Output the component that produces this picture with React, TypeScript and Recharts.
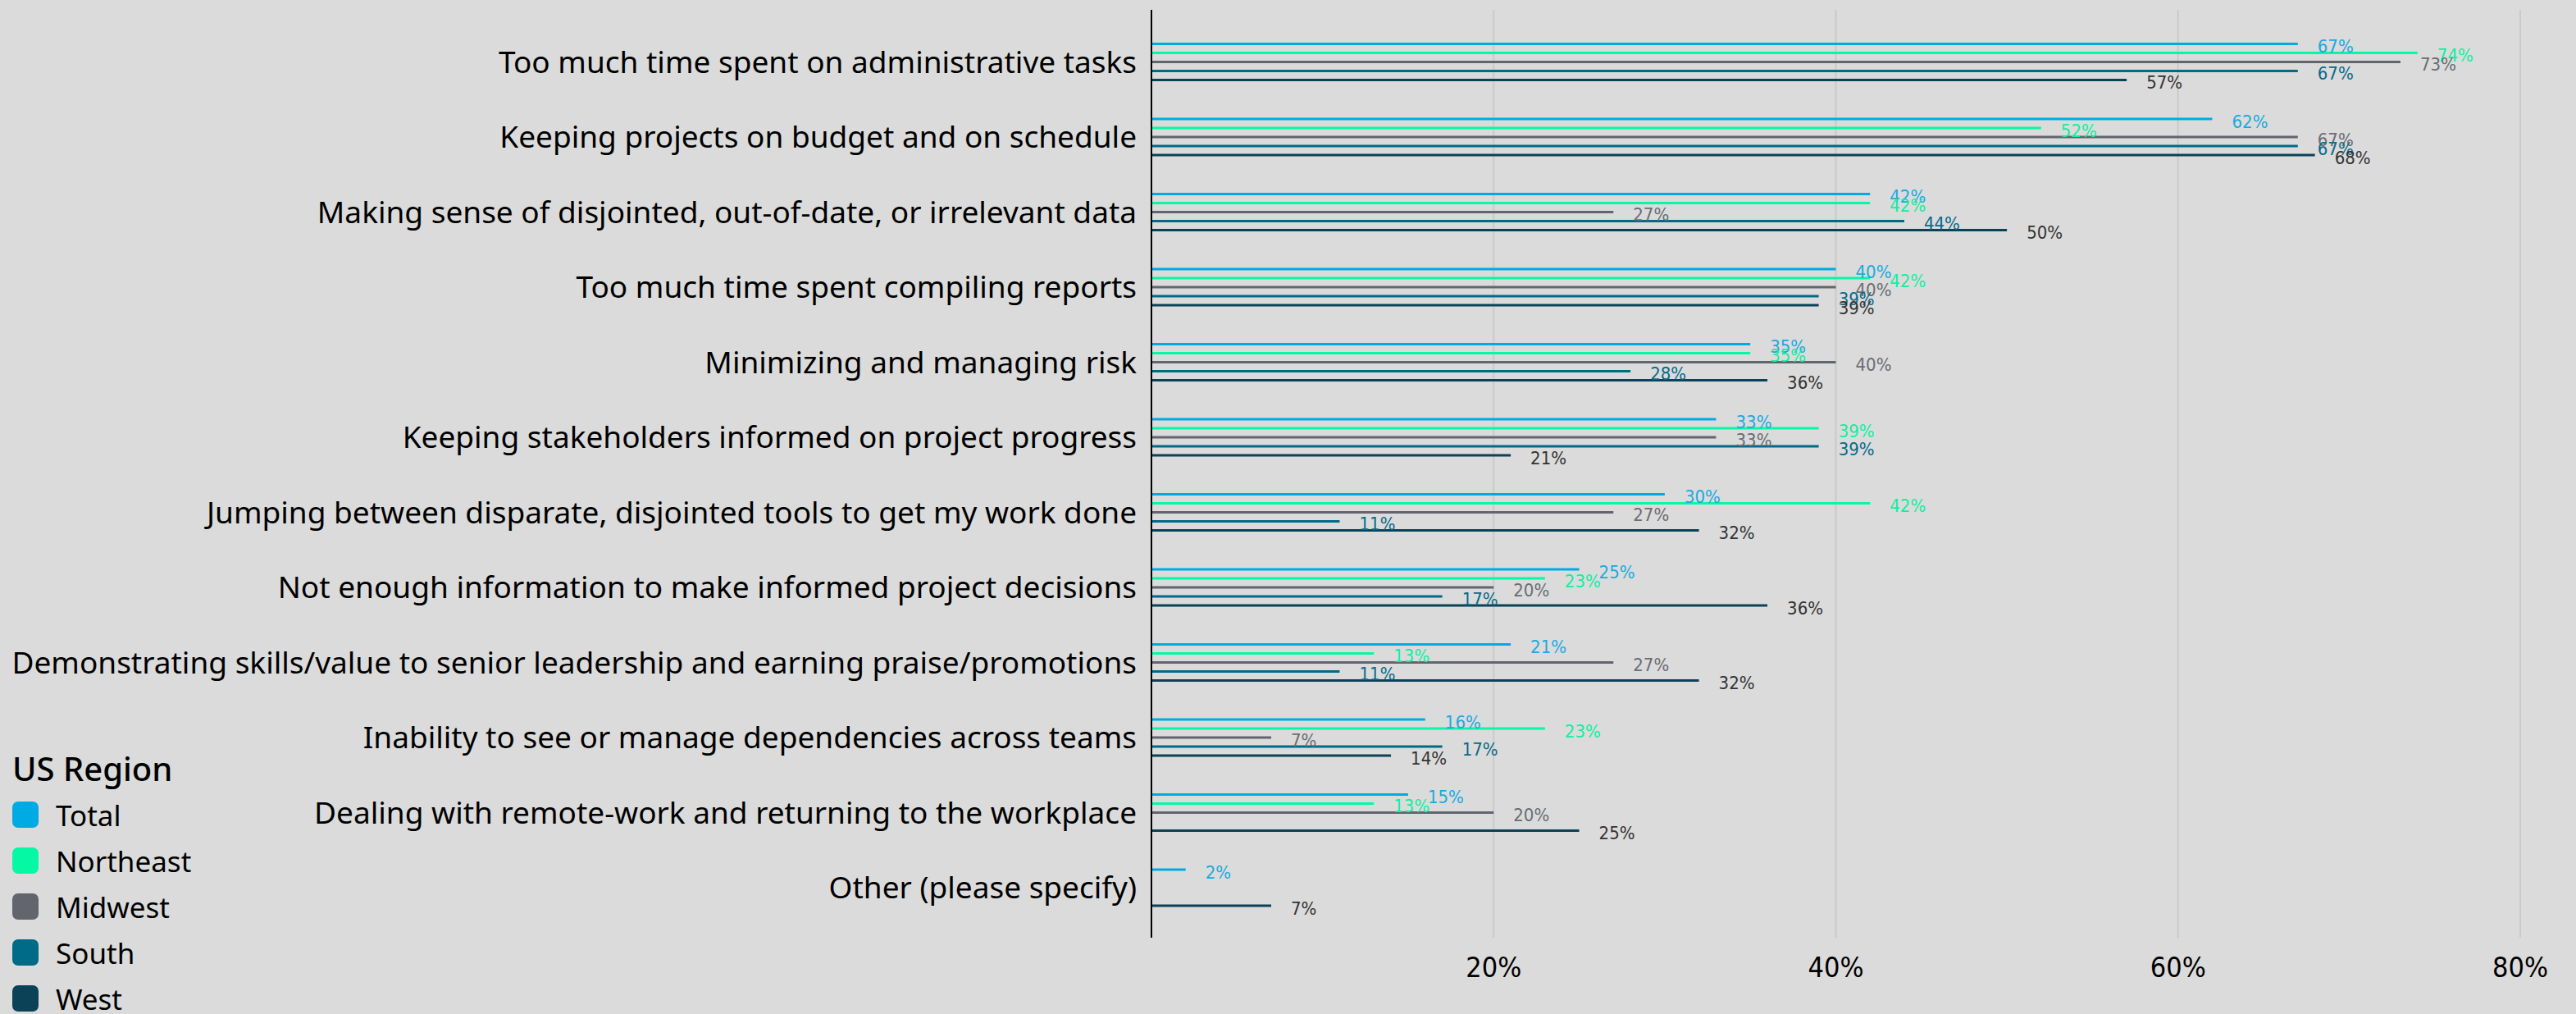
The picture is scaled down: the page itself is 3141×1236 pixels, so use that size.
import { BarChart, Bar, XAxis, YAxis, CartesianGrid, LabelList } from "recharts"

const categories = [
  "Too much time spent on administrative tasks",
  "Keeping projects on budget and on schedule",
  "Making sense of disjointed, out-of-date, or irrelevant data",
  "Too much time spent compiling reports",
  "Minimizing and managing risk",
  "Keeping stakeholders informed on project progress",
  "Jumping between disparate, disjointed tools to get my work done",
  "Not enough information to make informed project decisions",
  "Demonstrating skills/value to senior leadership and earning praise/promotions",
  "Inability to see or manage dependencies across teams",
  "Dealing with remote-work and returning to the workplace",
  "Other (please specify)",
]

const total = [67, 62, 42, 40, 35, 33, 30, 25, 21, 16, 15, 2]
const northeast = [74, 52, 42, 42, 35, 39, 42, 23, 13, 23, 13, null]
const midwest = [73, 67, 27, 40, 40, 33, 27, 20, 27, 7, 20, null]
const south = [67, 67, 44, 39, 28, 39, 11, 17, 11, 17, null, null]
const west = [57, 68, 50, 39, 36, 21, 32, 36, 32, 14, 25, 7]

const xTicks = [20, 40, 60, 80]

const series = [
  { key: "total", name: "Total", color: "#00ABE3", label: "#1AAAE0" },
  { key: "northeast", name: "Northeast", color: "#05F9A5", label: "#10EFA0" },
  { key: "midwest", name: "Midwest", color: "#62656D", label: "#6A6D74" },
  { key: "south", name: "South", color: "#006A89", label: "#0B6A88" },
  { key: "west", name: "West", color: "#0B4257", label: "#333333" },
]

const data = categories.map((name, i) => ({
  name,
  total: total[i],
  northeast: northeast[i],
  midwest: midwest[i],
  south: south[i],
  west: west[i],
}))

const FONT = "'Noto Sans', 'Open Sans', sans-serif"
const NARROW = "'Liberation Sans Narrow', 'DejaVu Sans Condensed', 'Noto Sans', sans-serif"

// legend drawn as a plain block so it doesn't eat into the plot area
function RegionLegend() {
  return (
    <div style={{ position: "absolute", left: 15, top: 912, fontFamily: FONT, color: "#000" }}>
      <div style={{ fontSize: 40, fontWeight: 500, lineHeight: "50px", marginBottom: 3 }}>US Region</div>
      {series.map((s) => (
        <div key={s.key} style={{ display: "flex", alignItems: "center", height: 56 }}>
          <div style={{ width: 32, height: 32, borderRadius: 7, background: s.color, marginRight: 21 }} />
          <span style={{ fontSize: 35 }}>{s.name}</span>
        </div>
      ))}
    </div>
  )
}

export default function App() {
  return (
    <div style={{ position: "absolute", left: 0, top: 0, width: 3141, height: 1236, background: "#DBDBDB" }}>
      <BarChart
        width={3141}
        height={1236}
        data={data}
        layout="vertical"
        barSize={3}
        barGap={8}
        margin={{ top: 12, right: 68, bottom: 0, left: 0 }}
      >
        <CartesianGrid horizontal={false} stroke="#CACACA" strokeWidth={2} />
        <XAxis
          type="number"
          domain={[0, 80]}
          ticks={xTicks}
          tickFormatter={(v) => `${v}%`}
          axisLine={false}
          tickLine={false}
          tickMargin={18}
          height={93}
          tick={{ fill: "#000", fontSize: 34, fontFamily: NARROW }}
        />
        <YAxis
          type="category"
          dataKey="name"
          width={1404}
          interval={0}
          padding={{ top: 18, bottom: 15 }}
          axisLine={{ stroke: "#000", strokeWidth: 2 }}
          tickLine={false}
          tickSize={0}
          tickMargin={18}
          tick={{ fill: "#000", fontSize: 37, fontFamily: FONT }}
        />
        {series.map((s) => (
          <Bar key={s.key} dataKey={s.key} name={s.name} fill={s.color} isAnimationActive={false}>
            <LabelList
              dataKey={s.key}
              position="right"
              offset={24}
              dy={3}
              formatter={(v: any) => (v == null ? "" : `${v}%`)}
              fill={s.label}
              fontSize={22}
              fontFamily={NARROW}
            />
          </Bar>
        ))}
      </BarChart>
      <RegionLegend />
    </div>
  )
}
